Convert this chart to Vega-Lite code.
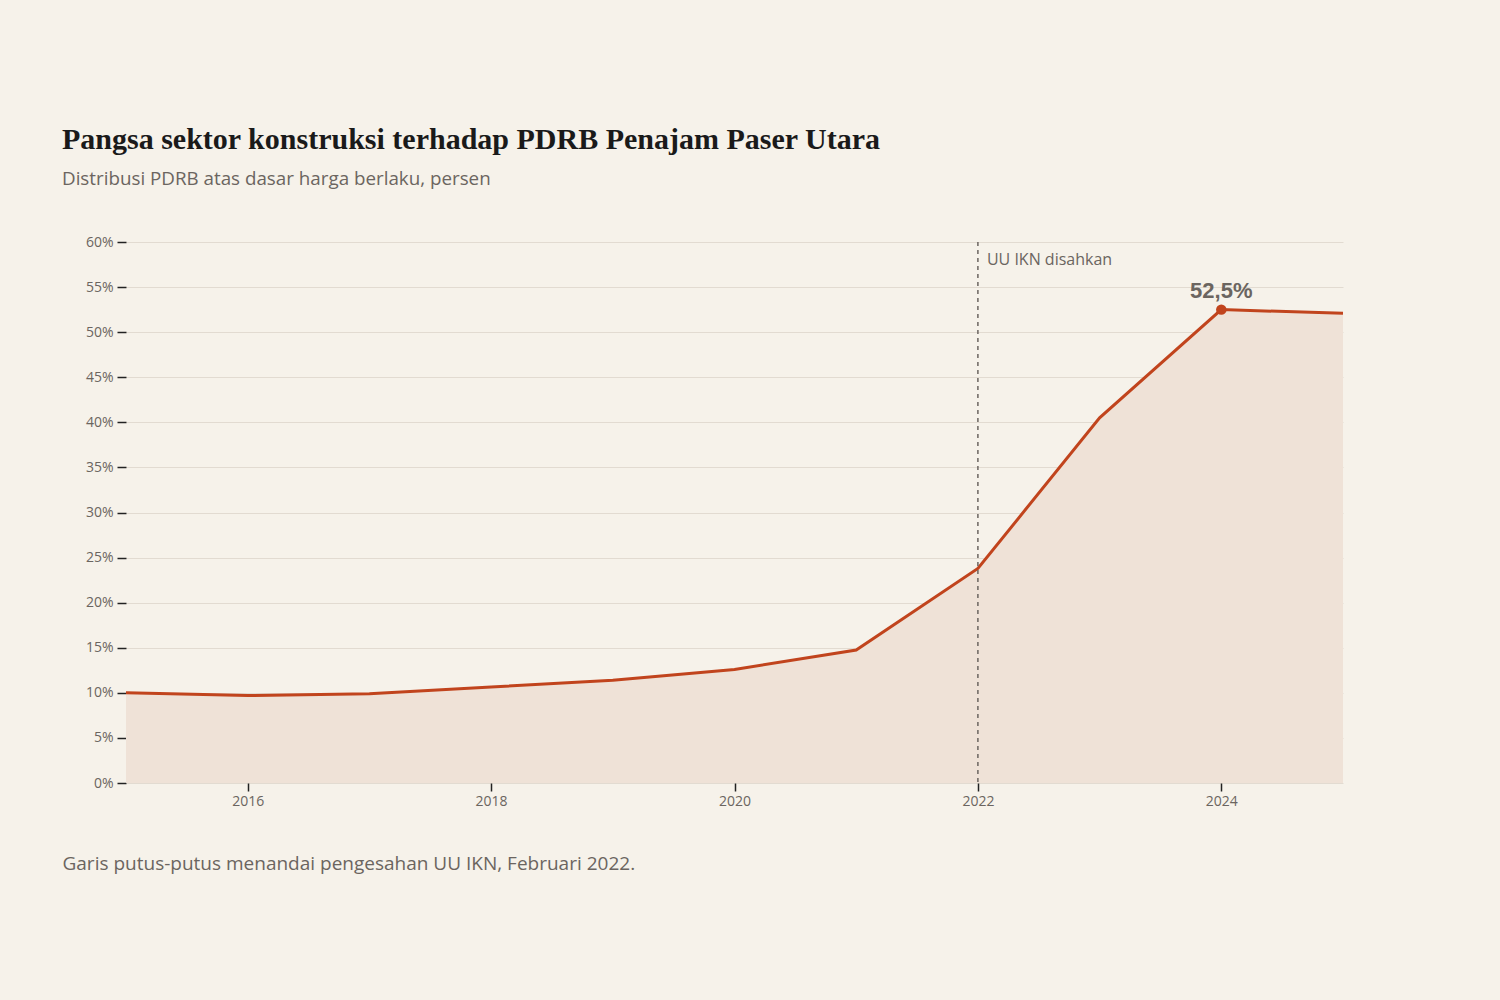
{
  "$schema": "https://vega.github.io/schema/vega-lite/v6.json",
  "width": 1217,
  "height": 541,
  "autosize": "none",
  "padding": {"left": 126, "top": 242, "right": 157, "bottom": 217},
  "background": "#f6f2ea",
  "config": {"view": {"stroke": null}, "font": "Open Sans"},
  "title": {
    "text": "Pangsa sektor konstruksi terhadap PDRB Penajam Paser Utara",
    "subtitle": "Distribusi PDRB atas dasar harga berlaku, persen",
    "anchor": "start",
    "frame": "group",
    "dx": -64,
    "offset": 46,
    "font": "Liberation Serif",
    "fontSize": 30,
    "fontWeight": "bold",
    "color": "#1a1a1a",
    "subtitleFont": "Open Sans",
    "subtitleFontSize": 18.8,
    "subtitleColor": "#6b6560",
    "subtitlePadding": 15
  },
  "datasets": {
    "series": [
      {"year": 2015, "value": 10.0},
      {"year": 2016, "value": 9.7},
      {"year": 2017, "value": 9.9},
      {"year": 2018, "value": 10.65},
      {"year": 2019, "value": 11.4},
      {"year": 2020, "value": 12.6},
      {"year": 2021, "value": 14.75},
      {"year": 2022, "value": 23.8},
      {"year": 2023, "value": 40.5},
      {"year": 2024, "value": 52.5},
      {"year": 2025, "value": 52.1}
    ],
    "events": [{"year": 2022, "value": 60, "label": "UU IKN disahkan"}],
    "peak": [{"year": 2024, "value": 52.5, "label": "52,5%"}]
  },
  "encoding": {
    "x": {
      "field": "year",
      "type": "quantitative",
      "scale": {"domain": [2015, 2025], "nice": false, "zero": false},
      "axis": {
        "values": [2016, 2018, 2020, 2022, 2024],
        "format": "d",
        "grid": false,
        "domain": false,
        "tickColor": "#222222",
        "tickSize": 8,
        "tickWidth": 1.5,
        "labelColor": "#6b6560",
        "labelFontSize": 14,
        "labelPadding": 3,
        "title": "Garis putus-putus menandai pengesahan UU IKN, Februari 2022.",
        "titleAnchor": "start",
        "titleAlign": "left",
        "titleBaseline": "alphabetic",
        "titleX": -64,
        "titleY": 86,
        "titleFontSize": 19,
        "titleFontWeight": "normal",
        "titleColor": "#6b6560",
        "titleFont": "Open Sans"
      }
    },
    "y": {
      "field": "value",
      "type": "quantitative",
      "scale": {"domain": [0, 60], "nice": false},
      "axis": {
        "values": [0, 5, 10, 15, 20, 25, 30, 35, 40, 45, 50, 55, 60],
        "labelExpr": "datum.value + '%'",
        "grid": true,
        "gridColor": "#e2dbd1",
        "gridWidth": 1.2,
        "domain": false,
        "tickColor": "#222222",
        "tickSize": 9,
        "tickWidth": 1.5,
        "labelColor": "#6b6560",
        "labelFontSize": 14,
        "labelPadding": 4,
        "title": null
      }
    }
  },
  "layer": [
    {
      "data": {"name": "series"},
      "mark": {"type": "area", "color": "#efe2d7"}
    },
    {
      "data": {"name": "series"},
      "mark": {"type": "line", "color": "#c1441d", "strokeWidth": 3}
    },
    {
      "data": {"name": "events"},
      "mark": {"type": "rule", "color": "#6b6560", "strokeWidth": 1.5, "strokeDash": [4, 4]},
      "encoding": {
        "y2": {"datum": 0}
      }
    },
    {
      "data": {"name": "events"},
      "mark": {"type": "text", "align": "left", "baseline": "top", "dx": 9, "dy": 10, "fontSize": 16, "color": "#6b6560", "font": "Open Sans"},
      "encoding": {
        "text": {"field": "label"}
      }
    },
    {
      "data": {"name": "peak"},
      "mark": {"type": "point", "filled": true, "opacity": 1, "color": "#c1441d", "size": 110}
    },
    {
      "data": {"name": "peak"},
      "mark": {"type": "text", "align": "center", "baseline": "alphabetic", "dy": -12, "fontSize": 22, "fontWeight": "bold", "color": "#6b6560", "font": "Liberation Sans"},
      "encoding": {
        "text": {"field": "label"}
      }
    }
  ]
}
